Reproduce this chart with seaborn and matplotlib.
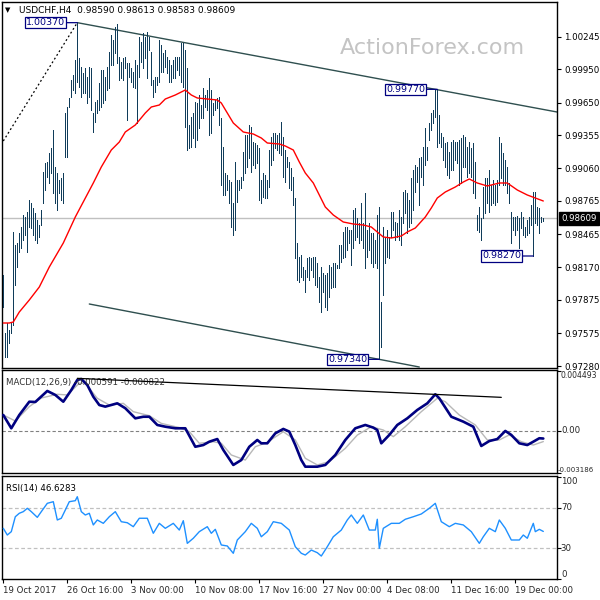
import numpy as np
import pandas as pd
import matplotlib
matplotlib.use("Agg")
import matplotlib.pyplot as plt
import matplotlib.transforms as mtransforms
import seaborn as sns

# ---------------- data (USDCHF H4) ----------------
highs = [0.98099,0.97577,0.97667,0.97604,0.97676,0.98486,0.98369,0.98387,0.98477,0.98531,
0.98639,0.98621,0.98666,0.98774,0.98747,0.98702,0.98657,0.98594,0.98549,0.98684,
0.99026,0.99107,0.99116,0.99197,0.99242,0.99404,0.99071,0.99017,0.98954,0.98972,
0.99017,0.99557,0.99611,0.99692,0.99854,0.99899,1.00034,1.00370,1.00052,0.99971,
0.99917,0.99962,0.99881,0.99971,0.99962,0.99557,0.99656,0.99674,0.99827,0.99944,
0.99944,0.99881,0.99971,1.00106,1.00259,1.00214,1.00331,1.00355,1.00061,1.00016,
1.00052,1.00061,1.00007,1.00007,0.99962,0.99926,1.00034,0.99989,1.00241,1.00196,
1.00277,1.00241,1.00286,1.00241,1.00106,0.99854,0.99881,0.99881,1.00214,1.00169,
1.00097,1.00124,1.00061,1.00034,0.99989,1.00034,1.00061,1.00061,1.00061,1.00187,
1.00187,1.00124,0.99962,0.99449,0.99521,0.99557,0.99656,0.99647,0.99719,0.99629,
0.99782,0.99719,0.99764,0.99872,0.99764,0.99647,0.99674,0.99692,0.99701,0.99512,
0.99251,0.99017,0.98999,0.98954,0.98936,0.98747,0.99116,0.98954,0.98954,0.98981,
0.99206,0.99359,0.99359,0.99449,0.99431,0.99296,0.99287,0.99269,0.99242,0.98954,
0.99017,0.98999,0.98954,0.99224,0.99341,0.99377,0.99377,0.99359,0.99377,0.99476,
0.99341,0.99224,0.99161,0.99116,0.99062,0.98981,0.98792,0.98387,0.98261,0.98279,
0.98171,0.98144,0.98252,0.98261,0.98252,0.98261,0.98261,0.98207,0.98081,0.98171,
0.98117,0.98099,0.98117,0.98189,0.98171,0.98207,0.98207,0.98189,0.98369,0.98369,
0.98486,0.98531,0.98531,0.98504,0.98504,0.98684,0.98702,0.98612,0.98567,0.98747,
0.98567,0.98837,0.98504,0.98567,0.98477,0.98477,0.98414,0.98639,0.98711,0.97856,
0.98531,0.98441,0.98504,0.98441,0.98666,0.98666,0.98576,0.98567,0.98684,0.98621,
0.98846,0.98864,0.98837,0.98774,0.98972,0.99044,0.99089,0.99071,0.99152,0.99161,
0.99251,0.99422,0.99251,0.99467,0.99557,0.99584,0.99764,0.99770,0.99539,0.99377,
0.99341,0.99287,0.99296,0.99206,0.99296,0.99314,0.99296,0.99296,0.99314,0.99332,
0.99359,0.99341,0.99251,0.99296,0.99242,0.99287,0.99116,0.98639,0.98711,0.98612,
0.98891,0.98972,0.98972,0.99044,0.98909,0.98954,0.98909,0.98954,0.99341,0.99287,
0.99197,0.99134,0.99071,0.98927,0.98666,0.98621,0.98621,0.98630,0.98612,0.98666,
0.98621,0.98531,0.98594,0.98621,0.98729,0.98846,0.98846,0.98711,0.98702,0.98621,
0.98613]
lows = [0.97811,0.97361,0.97361,0.97487,0.97577,0.97649,0.98009,0.98171,0.98306,0.98342,
0.98414,0.98459,0.98306,0.98531,0.98522,0.98459,0.98414,0.98387,0.98441,0.98549,
0.98747,0.98864,0.98981,0.98927,0.99017,0.98837,0.98747,0.98684,0.98837,0.98774,
0.98747,0.99161,0.99161,0.99611,0.99701,0.99764,0.99737,0.99836,0.99791,0.99701,
0.99737,0.99737,0.99647,0.99701,0.99584,0.99386,0.99476,0.99557,0.99584,0.99611,
0.99647,0.99674,0.99764,0.99782,0.99989,0.99989,1.00097,1.00007,0.99854,0.99872,
0.99854,0.99962,0.99494,0.99881,0.99836,0.99791,0.99782,0.99467,0.99881,1.00016,
0.99962,1.00052,0.99872,1.00124,0.99809,0.99701,0.99746,0.99809,0.99836,0.99926,
0.99926,0.99971,0.99917,0.99836,0.99836,0.99872,0.99872,0.99944,0.99899,0.99836,
0.99791,0.99431,0.99224,0.99242,0.99251,0.99332,0.99251,0.99314,0.99422,0.99512,
0.99512,0.99611,0.99584,0.99359,0.99377,0.99539,0.99584,0.99602,0.99449,0.98909,
0.98819,0.98819,0.98864,0.98747,0.98531,0.98459,0.98504,0.98756,0.98864,0.98882,
0.98954,0.99017,0.99071,0.99152,0.99026,0.99089,0.99062,0.99107,0.98774,0.98747,
0.98801,0.98792,0.98792,0.98891,0.99089,0.99134,0.99242,0.99224,0.99197,0.99179,
0.98981,0.98936,0.99071,0.98882,0.98864,0.98729,0.98252,0.98054,0.98036,0.98081,
0.98054,0.97946,0.98081,0.98054,0.98144,0.98081,0.98009,0.97991,0.97856,0.97766,
0.97946,0.97811,0.97784,0.97901,0.97982,0.97991,0.97991,0.98162,0.98162,0.98216,
0.98252,0.98261,0.98324,0.98387,0.98189,0.98342,0.98414,0.98441,0.98387,0.98414,
0.98342,0.98162,0.98261,0.98324,0.98207,0.98171,0.98207,0.98162,0.97340,0.97451,
0.97919,0.98207,0.98261,0.98252,0.98441,0.98504,0.98414,0.98441,0.98414,0.98369,
0.98567,0.98657,0.98477,0.98531,0.98567,0.98684,0.98846,0.98936,0.98729,0.98981,
0.98909,0.99089,0.99134,0.99314,0.99404,0.99467,0.99521,0.99251,0.99287,0.99251,
0.99134,0.99071,0.98999,0.98972,0.99044,0.99044,0.99134,0.99107,0.98909,0.98927,
0.99071,0.99071,0.98981,0.99017,0.98981,0.98837,0.98792,0.98504,0.98486,0.98414,
0.98612,0.98657,0.98747,0.98666,0.98729,0.98747,0.98729,0.98756,0.98909,0.98972,
0.98909,0.98909,0.98837,0.98747,0.98387,0.98504,0.98459,0.98504,0.98342,0.98522,
0.98459,0.98441,0.98459,0.98477,0.98549,0.98270,0.98567,0.98549,0.98477,0.98576,
0.98583]
last_ohlc = [0.98590, 0.98613, 0.98583, 0.98609]

ma_idx = [0,3,5,8,13,18,23,30,36,45,49,54,58,61,66,71,74,78,81,86,91,94,97,102,107,109,112,115,120,125,
          129,132,138,141,145,148,151,155,158,161,165,170,175,180,184,187,190,194,199,202,206,211,214,217,221,226,
          230,233,237,242,248,252,257,262,266,270]
ma_val = [0.97667,0.97667,0.97676,0.97766,0.97874,0.97991,0.98171,0.98387,0.98621,0.98927,
          0.99071,0.99224,0.99296,0.99386,0.99449,0.99557,0.99611,0.99629,0.99683,0.99719,
          0.99764,0.99719,0.99692,0.99683,0.99674,0.99647,0.99557,0.99467,0.99386,0.99368,
          0.99332,0.99287,0.99278,0.99260,0.99224,0.99116,0.99017,0.98927,0.98819,0.98711,
          0.98639,0.98576,0.98558,0.98549,0.98531,0.98486,0.98441,0.98432,0.98450,0.98486,
          0.98522,0.98621,0.98702,0.98792,0.98846,0.98891,0.98936,0.98963,0.98927,0.98900,
          0.98927,0.98927,0.98864,0.98819,0.98792,0.98765]

price_ticks = [1.00245,0.99950,0.99650,0.99355,0.99060,0.98765,0.98465,0.98170,0.97875,0.97575,0.97280]

# annotated swing points
swing_idx = [37, 217, 188, 265]
swing_val = [1.00370, 0.99770, 0.97340, 0.98270]

# trend lines (bar index, price)
upper_line_idx = [37, 276.85]
upper_line_val = [1.00370, 0.99566]
lower_line_idx = [43, 208]
lower_line_val = [0.97838, 0.97271]
dotted_line_idx = [0, 37]
dotted_line_val = [0.99305, 1.00370]

macd_idx = [0,4,8,13,16,22,26,30,34,37,39,42,45,48,51,57,61,66,70,73,77,81,86,91,96,100,103,107,110,115,
            119,123,127,129,132,136,140,143,146,149,151,157,161,166,171,176,181,185,187,189,193,197,202,207,212,
            216,218,224,230,235,239,243,247,251,254,258,262,265,268,270]
macd_val = [0.00118,0.00018,0.00118,0.00218,0.00216,0.00299,0.00269,0.00218,0.00306,0.00382,
            0.00389,0.00344,0.00256,0.00193,0.00181,0.00206,0.00169,0.00093,0.00105,0.00105,
            0.00043,0.00030,0.00018,0.00018,-0.00121,-0.00108,-0.00083,-0.00063,-0.00145,-0.00258,
            -0.00221,-0.00121,-0.00070,-0.00095,-0.00095,-0.00020,0.00013,-0.00007,-0.00108,-0.00221,
            -0.00271,-0.00271,-0.00258,-0.00183,-0.00070,0.00018,0.00043,0.00023,0.00005,-0.00095,
            -0.00032,0.00043,0.00093,0.00156,0.00206,0.00274,0.00244,0.00105,0.00068,0.00030,
            -0.00115,-0.00078,-0.00063,-0.00002,-0.00032,-0.00095,-0.00108,-0.00083,-0.00057,-0.000591]
sig_idx = [0,6,13,19,27,32,38,41,47,53,60,65,73,79,88,93,98,105,109,114,121,126,132,140,146,151,157,163,171,177,
           184,190,195,201,209,217,221,228,236,242,248,253,259,265,270]
sig_val = [0.00118,0.00073,0.00181,0.00246,0.00274,0.00269,0.00357,0.00357,0.00244,0.00193,
           0.00206,0.00143,0.00113,0.00055,0.00023,-0.00007,-0.00095,-0.00083,-0.00095,-0.00183,
           -0.00221,-0.00121,-0.00087,-0.00008,-0.00070,-0.00208,-0.00258,-0.00233,-0.00133,-0.00033,
           0.00030,0.00005,-0.00045,0.00030,0.00143,0.00244,0.00218,0.00118,0.00043,-0.00070,
           -0.00070,-0.00032,-0.00083,-0.00108,-0.000822]
macd_trend_idx = [37, 249]
macd_trend_val = [0.00394, 0.00251]
macd_max, macd_min = 0.004493, -0.003186

rsi_idx = [0,2,4,6,8,10,12,14,17,19,22,25,27,29,31,33,36,37,39,41,43,45,47,50,53,56,59,62,65,68,
           72,75,78,81,85,88,90,92,95,98,102,104,106,109,112,115,117,121,124,127,129,132,135,139,143,146,149,151,154,157,
           159,162,165,169,172,174,177,180,183,186,187,188,190,194,198,201,205,209,213,216,
           219,223,226,230,234,238,240,243,246,248,251,254,258,260,262,265,266,268,270]
rsi_val = [49.7,43.1,46.4,61.1,64.5,66.1,69.4,66.1,60.5,66.1,74.3,75.9,57.9,59.6,67.7,75.9,76.9,80.8,66.1,62.8,
           64.5,53.0,57.9,54.6,61.1,66.1,56.2,55.2,51.3,59.6,59.6,44.8,54.6,49.7,54.6,48.0,57.2,34.9,39.9,46.4,
           51.3,44.8,48.7,33.3,32.3,25.1,38.2,46.4,54.6,49.7,41.4,46.4,56.2,54.6,48.0,31.6,25.1,23.4,28.3,25.7,
           22.4,31.6,41.4,48.0,57.9,62.8,54.6,62.8,48.0,48.0,58.6,30.0,49.7,54.6,54.6,58.6,61.1,63.8,69.4,74.3,
           56.2,51.3,54.6,53.0,46.4,34.9,41.4,49.7,46.4,57.9,49.7,38.2,38.2,43.1,39.9,54.6,46.4,48.7,46.6283]

date_tick_idx = [0, 32, 64, 96, 128, 160, 192, 224, 256]
date_labels = ["19 Oct 2017", "26 Oct 16:00", "3 Nov 00:00", "10 Nov 08:00", "17 Nov 16:00",
               "27 Nov 00:00", "4 Dec 08:00", "11 Dec 16:00", "19 Dec 00:00"]

# ---------------- style ----------------
sns.set_theme(style="white")
plt.rcParams['font.family'] = ['DejaVu Sans']
FS = 6.2
BAR_C = '#103c5a'

fig = plt.figure(figsize=(6, 6), dpi=100)
fig.patch.set_facecolor('white')
W, H = 600.0, 600.0
def box(top, bottom, left=2, right=557):
    return [left / W, 1 - bottom / H, (right - left) / W, (bottom - top) / H]

ax = fig.add_axes(box(2, 368))
ax2 = fig.add_axes(box(370, 473))
ax3 = fig.add_axes(box(476, 579))
XL = (-0.65, 276.85)
for a in (ax, ax2, ax3):
    a.set_xlim(*XL)
    a.set_facecolor('white')
    for s in a.spines.values():
        s.set_color('black')
        s.set_linewidth(1.0)
    a.yaxis.tick_right()
    a.tick_params(axis='y', direction='out', length=3, width=0.8, color='black',
                  labelsize=FS, pad=2, labelcolor='black')
    a.set_xticks([])
    a.grid(False)

n = len(highs)
bars = pd.DataFrame({'i': np.arange(n), 'high': highs, 'low': lows})

# ---- main price panel ----
ax.set_ylim(0.97262, 1.00556)
ax.set_yticks(price_ticks)
ax.set_yticklabels([f"{v:.5f}" for v in price_ticks])
ax.axhline(last_ohlc[3], color='#c0c0c0', lw=1.0, zorder=1)
ax.text(0.7757, 0.874, 'ActionForex.com', transform=ax.transAxes, ha='center', va='center',
        fontsize=16, color='#c4c4c4', zorder=0)
ax.vlines(bars['i'], bars['low'], bars['high'], colors=BAR_C, lw=0.68, zorder=3, antialiased=False)
ma = pd.DataFrame({'i': ma_idx, 'v': ma_val})
sns.lineplot(data=ma, x='i', y='v', ax=ax, color='#ff0000', lw=1.0, sort=False, zorder=4)
ax.plot(upper_line_idx, upper_line_val, color='#2f4f4f', lw=1.0, zorder=2)
ax.plot(lower_line_idx, lower_line_val, color='#2f4f4f', lw=1.0, zorder=2)
ax.plot(dotted_line_idx, dotted_line_val, color='black', lw=0.9, ls=(0, (1.5, 2)), zorder=2)
for i, v in zip(swing_idx, swing_val):
    ax.annotate(f"{v:.5f}", xy=(i, v), xytext=(-12, 0), textcoords='offset pixels',
                ha='right', va='center', fontsize=FS + 0.6, color='#000080', zorder=6,
                bbox=dict(boxstyle='square,pad=0.12', fc='white', ec='#000080', lw=0.9),
                arrowprops=dict(arrowstyle='-', color='#000080', lw=0.9, shrinkA=0, shrinkB=0))
ax.text(0.006, 0.978, '\u25bc', transform=ax.transAxes, fontsize=5, va='center', ha='left', color='black')
ax.text(0.030, 0.978, 'USDCHF,H4  ' + ' '.join(f"{v:.5f}" for v in last_ohlc), transform=ax.transAxes,
        fontsize=FS + 0.3, va='center', ha='left', color='black')
ax.annotate(f"{last_ohlc[3]:.5f}", xy=(1, last_ohlc[3]), xycoords=('axes fraction', 'data'),
            xytext=(4, 0), textcoords='offset pixels', ha='left', va='center', fontsize=FS,
            color='white', annotation_clip=False,
            bbox=dict(boxstyle='square,pad=0.25', fc='black', ec='black'))
ax.set_xlabel(''); ax.set_ylabel('')

# ---- MACD panel ----
ax2.set_ylim(macd_min, 0.004568)
ax2.axhline(0, color='#808080', lw=0.8, ls=(0, (3, 2)), zorder=1)
sig = pd.DataFrame({'i': sig_idx, 'v': sig_val})
mac = pd.DataFrame({'i': macd_idx, 'v': macd_val})
sns.lineplot(data=sig, x='i', y='v', ax=ax2, color='#b8b8b8', lw=1.0, sort=False, zorder=2)
sns.lineplot(data=mac, x='i', y='v', ax=ax2, color='#000080', lw=1.9, sort=False, zorder=3)
ax2.plot(macd_trend_idx, macd_trend_val, color='black', lw=0.9, zorder=4)
ax2.set_yticks([macd_max, 0.0, macd_min])
ax2.set_yticklabels([])
tr2 = mtransforms.blended_transform_factory(ax2.transAxes, ax2.transData)
ax2.text(1.006, macd_max, f"{macd_max:.6f}", transform=tr2, fontsize=5.5, va='top', ha='left')
ax2.text(1.007, 0.0, "0.00", transform=tr2, fontsize=FS, va='center', ha='left')
ax2.text(1.002, macd_min, f"{macd_min:.6f}", transform=tr2, fontsize=5.0, va='bottom', ha='left')
ax2.text(0.008, 0.92, f"MACD(12,26,9) {macd_val[-1]:.6f} {sig_val[-1]:.6f}", transform=ax2.transAxes,
         fontsize=FS, va='top', ha='left', color='#303030', zorder=3)
ax2.set_xlabel(''); ax2.set_ylabel('')

# ---- RSI panel ----
ax3.set_ylim(-0.2, 101.2)
for lvl in (70, 30):
    ax3.axhline(lvl, color='#c0c0c0', lw=0.9, ls=(0, (3, 2)), zorder=1)
rsi = pd.DataFrame({'i': rsi_idx, 'v': rsi_val})
sns.lineplot(data=rsi, x='i', y='v', ax=ax3, color='#1e90ff', lw=1.0, sort=False, zorder=3)
ax3.set_yticks([100, 70, 30, 0])
ax3.set_yticklabels([])
tr3 = mtransforms.blended_transform_factory(ax3.transAxes, ax3.transData)
ax3.text(1.007, 100, "100", transform=tr3, fontsize=FS, va='top', ha='left')
ax3.text(1.007, 70, "70", transform=tr3, fontsize=FS, va='center', ha='left')
ax3.text(1.007, 30, "30", transform=tr3, fontsize=FS, va='center', ha='left')
ax3.text(1.007, 0, "0", transform=tr3, fontsize=FS, va='bottom', ha='left')
ax3.text(0.008, 0.92, f"RSI(14) {rsi_val[-1]:.4f}", transform=ax3.transAxes,
         fontsize=FS, va='top', ha='left', color='black')
ax3.set_xticks(date_tick_idx)
ax3.set_xticklabels(date_labels)
ax3.tick_params(axis='x', direction='out', length=3, width=0.8, color='black', labelsize=FS, pad=2, bottom=True)
for lab in ax3.get_xticklabels():
    lab.set_horizontalalignment('left')
ax3.set_xlabel(''); ax3.set_ylabel('')

fig.savefig('out.png', dpi=100, facecolor='white')
